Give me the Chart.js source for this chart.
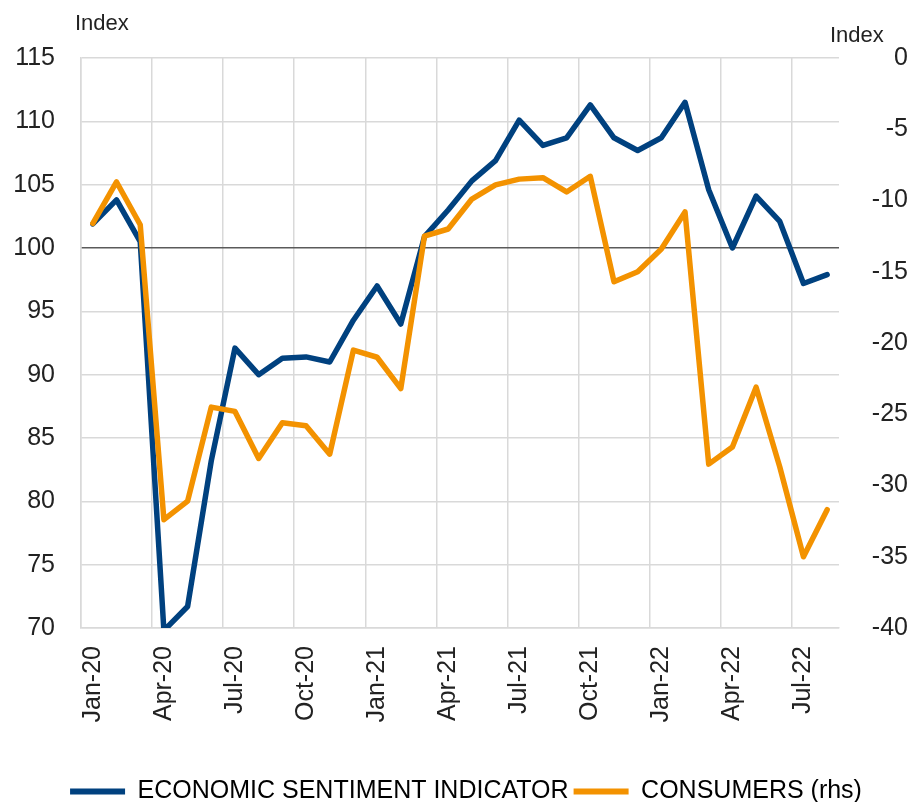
<!DOCTYPE html>
<html>
<head>
<meta charset="utf-8">
<script src="https://cdn.jsdelivr.net/npm/chart.js@4"></script>
<style>
    body { margin: 0; background: #fff; }
    #wrap { width: 908px; height: 802px; }
</style>
</head>
<body>
<div id="wrap"><canvas id="sentimentChart" width="908" height="802"></canvas></div>
<script>
const months = [
    'Jan-20', 'Feb-20', 'Mar-20', 'Apr-20', 'May-20', 'Jun-20', 'Jul-20', 'Aug-20',
    'Sep-20', 'Oct-20', 'Nov-20', 'Dec-20', 'Jan-21', 'Feb-21', 'Mar-21', 'Apr-21',
    'May-21', 'Jun-21', 'Jul-21', 'Aug-21', 'Sep-21', 'Oct-21', 'Nov-21', 'Dec-21',
    'Jan-22', 'Feb-22', 'Mar-22', 'Apr-22', 'May-22', 'Jun-22', 'Jul-22', 'Aug-22'
];

// left axis
const esi = [
    101.9, 103.8, 100.5, 69.8, 71.7, 83.2, 92.1, 90.0,
    91.3, 91.4, 91.0, 94.3, 97.0, 94.0, 100.9, 103.0,
    105.3, 106.9, 110.1, 108.1, 108.7, 111.3, 108.7, 107.7,
    108.7, 111.5, 104.6, 100.0, 104.1, 102.1, 97.2, 97.9
];

// right axis (rhs)
const consumers = [
    -11.6, -8.7, -11.7, -32.4, -31.1, -24.5, -24.8, -28.1,
    -25.6, -25.8, -27.8, -20.5, -21.0, -23.2, -12.5, -12.0,
    -9.9, -8.9, -8.5, -8.4, -9.4, -8.3, -15.7, -15.0,
    -13.4, -10.8, -28.5, -27.3, -23.1, -28.7, -35.0, -31.7
];

const seriesNames = ['ECONOMIC SENTIMENT INDICATOR', 'CONSUMERS (rhs)'];
const seriesColors = ['#00417F', '#F39200'];

const fontFamily = '"Liberation Sans", Arial, Helvetica, sans-serif';
const gridColor = '#d9d9d9';

// "Index" unit labels above both axes
const unitLabels = {
    id: 'unitLabels',
    afterLayout(chart) {
        // nudge the legend down and right, like the original
        const lg = chart.legend;
        lg.top += 12;
        lg.bottom += 12;
        lg.left += 12;
        lg.right += 12;
    },
    afterDraw(chart) {
        const ctx = chart.ctx;
        ctx.save();
        ctx.fillStyle = '#222';
        ctx.font = '22px ' + fontFamily;
        ctx.textBaseline = 'alphabetic';
        ctx.textAlign = 'left';
        ctx.fillText('Index', 75, 30);
        ctx.fillText('Index', 830, 42);
        ctx.restore();
    }
};

const ctx = document.getElementById('sentimentChart').getContext('2d');
const sentimentChart = new Chart(ctx, {
    type: 'line',
    data: {
        labels: months,
        datasets: [
            {
                label: seriesNames[0],
                data: esi,
                borderColor: seriesColors[0],
                backgroundColor: seriesColors[0],
                borderWidth: 5.5,
                yAxisID: 'y',
                order: 1
            },
            {
                label: seriesNames[1],
                data: consumers,
                borderColor: seriesColors[1],
                backgroundColor: seriesColors[1],
                borderWidth: 5.5,
                yAxisID: 'y1',
                order: 0
            }
        ]
    },
    options: {
        responsive: false,
        animation: false,
        layout: {
            padding: { top: 58, left: 0, right: 0, bottom: 0 }
        },
        elements: {
            point: { radius: 0 },
            line: {
                tension: 0,
                borderJoinStyle: 'round',
                borderCapStyle: 'round'
            }
        },
        scales: {
            x: {
                offset: true,
                grid: {
                    offset: true,
                    drawTicks: false,
                    lineWidth: 1.5,
                    color: (c) => (c.index % 3 === 0 ? gridColor : 'rgba(0,0,0,0)')
                },
                border: { display: true, color: gridColor, width: 1.5 },
                ticks: {
                    autoSkip: false,
                    minRotation: 90,
                    maxRotation: 90,
                    padding: 18,
                    color: '#222',
                    font: { family: fontFamily, size: 25 },
                    callback: (value, index) => (index % 3 === 0 ? months[index] : '')
                },
                afterFit: (scale) => {
                    scale.height = 134;
                }
            },
            y: {
                position: 'left',
                min: 70,
                max: 115,
                grid: {
                    drawTicks: false,
                    lineWidth: 1.5,
                    color: (c) => (c.tick && c.tick.value === 100 ? '#5a5a5a' : gridColor)
                },
                border: { display: true, color: gridColor, width: 1.5 },
                ticks: {
                    stepSize: 5,
                    padding: 26,
                    color: '#222',
                    font: { family: fontFamily, size: 25 }
                },
                afterFit: (scale) => {
                    scale.width = 81;
                }
            },
            y1: {
                position: 'right',
                min: -40,
                max: 0,
                grid: { display: false, drawTicks: false },
                border: { display: false },
                ticks: {
                    stepSize: 5,
                    padding: 3,
                    crossAlign: 'far',
                    color: '#222',
                    font: { family: fontFamily, size: 25 }
                },
                afterFit: (scale) => {
                    scale.width = 69;
                }
            }
        },
        plugins: {
            legend: {
                position: 'bottom',
                labels: {
                    boxWidth: 55,
                    boxHeight: 6,
                    padding: 5,
                    useBorderRadius: true,
                    borderRadius: 3,
                    color: '#111',
                    font: { family: fontFamily, size: 25 },
                    generateLabels: (chart) =>
                        chart.data.datasets.map((ds, i) => ({
                            text: ds.label,
                            fillStyle: ds.borderColor,
                            strokeStyle: ds.borderColor,
                            lineWidth: 0,
                            datasetIndex: i
                        }))
                }
            },
            tooltip: { enabled: false }
        }
    },
    plugins: [unitLabels]
});
</script>
</body>
</html>
